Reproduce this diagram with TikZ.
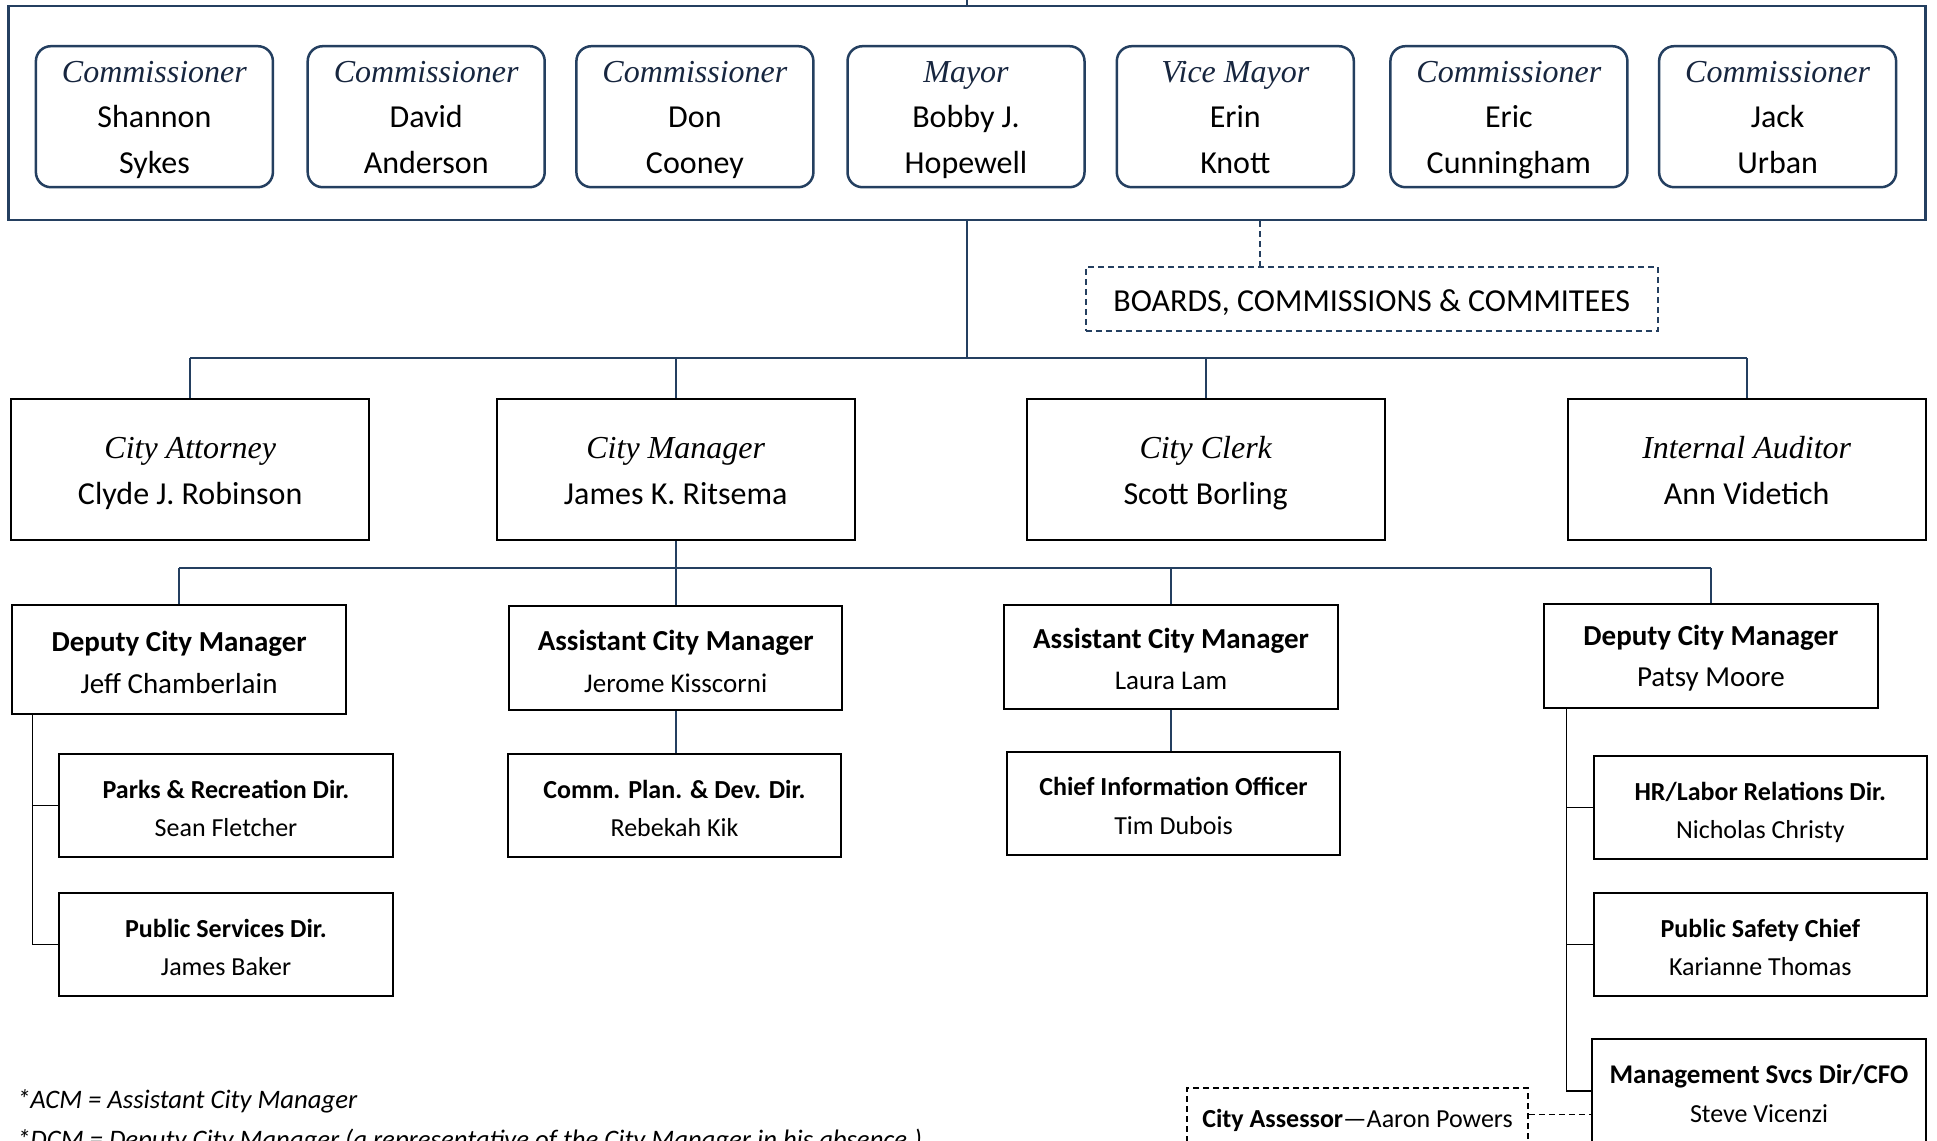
\documentclass[tikz,border=0pt]{standalone}
\usepackage{fontspec}
\setmainfont{Carlito}
\newfontfamily\tnr{Liberation Serif}
\definecolor{navy}{HTML}{243F60}
\definecolor{navytxt}{HTML}{17263F}
\newcommand\rtitle[1]{{\tnr\itshape #1}}
\newcommand\ctitle[1]{{\tnr\itshape\color{navytxt}#1}}
\newcommand\bstr{}
\newcommand\estr{}
\begin{document}
\begin{tikzpicture}[x=1pt,y=-1pt,
  conn/.style={draw=navy,line width=2pt},
  subline/.style={draw=black,line width=1.6pt},
  struts/.style 2 args={execute at begin node={\def\bstr{\rule{0pt}{#1}}\def\estr{\rule[-#2]{0pt}{#2}}}},
  council/.style={draw=navy,line width=2.5pt,rounded corners=15pt,minimum width=237pt,minimum height=141pt,align=center,inner sep=0pt,font=\fontsize{32}{45.7}\selectfont,struts={35pt}{13pt}},
  officer/.style={draw=black,line width=2pt,minimum width=358pt,minimum height=141pt,align=center,inner sep=0pt,font=\fontsize{32}{45.7}\selectfont,struts={37pt}{12.5pt}},
  manager/.style={draw=black,line width=2pt,minimum width=333.5pt,minimum height=104pt,align=center,inner sep=0pt,font=\fontsize{29}{41.5}\selectfont,struts={36pt}{10pt}},
  director/.style={draw=black,line width=2pt,minimum width=333.5pt,minimum height=103pt,align=center,inner sep=0pt,font=\fontsize{26}{38.4}\selectfont,struts={33pt}{8.7pt}},
  dashbox/.style={dashed,dash pattern=on 6pt off 4pt,line width=1.6pt,align=center,inner sep=0pt},
  note/.style={anchor=base west,inner sep=0pt,font=\fontsize{26.7}{32}\selectfont\itshape}
]
\useasboundingbox (0,0) rectangle (1937,1140);
\fill[white] (0,0) rectangle (1937,1140);

% council frame
\node[draw=navy,line width=2.5pt,minimum width=1917pt,minimum height=214pt,inner sep=0pt] (frame) at (967.2,113) {};
\coordinate (top) at (967.2,0);
\draw[conn] (frame.north) -- (top);

\node[council] (c1) at (154.4,116.7) {\bstr\ctitle{Commissioner}\\Shannon\\Sykes\estr};
\node[council] (c2) at (426.2,116.7) {\bstr\ctitle{Commissioner}\\David\\Anderson\estr};
\node[council] (c3) at (694.9,116.7) {\bstr\ctitle{Commissioner}\\Don\\Cooney\estr};
\node[council] (c4) at (966.0,116.7) {\bstr\ctitle{Mayor}\\Bobby J.\\Hopewell\estr};
\node[council] (c5) at (1235.3,116.7) {\bstr\ctitle{Vice Mayor}\\Erin\\Knott\estr};
\node[council] (c6) at (1508.9,116.7) {\bstr\ctitle{Commissioner}\\Eric\\Cunningham\estr};
\node[council] (c7) at (1777.6,116.7) {\bstr\ctitle{Commissioner}\\Jack\\Urban\estr};

% boards
\node[dashbox,draw=navy,minimum width=572pt,minimum height=64pt,font=\fontsize{32}{38}\selectfont,struts={30pt}{5pt}] (bd) at (1371.8,298.9) {\bstr BOARDS, COMMISSIONS \& COMMITEES\estr};
\coordinate (bdx) at (1260,0);
\draw[conn,dashed,dash pattern=on 6pt off 4pt] (frame.south -| bdx) -- (bd.north -| bdx);

% level 2
\node[officer] (ca) at (190.2,469.4) {\bstr\rtitle{City Attorney}\\Clyde J. Robinson\estr};
\node[officer] (cm) at (675.7,469.4) {\bstr\rtitle{City Manager}\\James K. Ritsema\estr};
\node[officer] (cc) at (1205.7,469.4) {\bstr\rtitle{City Clerk}\\Scott Borling\estr};
\node[officer] (ia) at (1746.7,469.4) {\bstr\rtitle{Internal Auditor}\\Ann Videtich\estr};

\coordinate (busA) at (967.2,358.2);
\draw[conn] (frame.south) -- (busA);
\draw[conn] (ca.north |- busA) -- (ia.north |- busA);
\foreach \n in {ca,cm,cc,ia} \draw[conn] (\n.north) -- (\n.north |- busA);

% level 3
\node[manager,minimum height=108.7pt] (jeff) at (179.1,659.7) {\bstr\textbf{Deputy City Manager}\\Jeff Chamberlain\estr};
\node[manager] (jer) at (675.7,658.4) {\bstr\textbf{Assistant City Manager}\\{\fontsize{27}{41.5}\selectfont Jerome Kisscorni}\estr};
\node[manager,struts={34pt}{10pt}] (lau) at (1171,657.2) {\bstr\textbf{Assistant City Manager}\\{\fontsize{27}{41.5}\selectfont Laura Lam}\estr};
\node[manager,struts={30pt}{10pt}] (pat) at (1710.9,656) {\bstr\textbf{Deputy City Manager}\\Patsy Moore\estr};

\coordinate (busB) at (675.7,568.2);
\draw[conn] (cm.south) -- (cm.south |- busB);
\draw[conn] (jeff.north |- busB) -- (pat.north |- busB);
\foreach \n in {jeff,jer,lau,pat} \draw[conn] (\n.north) -- (\n.north |- busB);

% level 4
\node[director] (cpd) at (674.5,805.4) {\bstr\textbf{Comm. Plan. \& Dev. Dir.}\\Rebekah Kik\estr};
\node[director] (cio) at (1173.5,803) {\bstr\textbf{Chief Information Officer}\\Tim Dubois\estr};
\node[director] (pk) at (226,805.4) {\bstr\textbf{Parks \& Recreation Dir.}\\Sean Fletcher\estr};
\node[director] (ps) at (226,944.4) {\bstr\textbf{Public Services Dir.}\\James Baker\estr};
\node[director] (hr) at (1760.3,807.3) {\bstr\textbf{HR/Labor Relations Dir.}\\Nicholas Christy\estr};
\node[director] (psc) at (1760.3,944.4) {\bstr\textbf{Public Safety Chief}\\Karianne Thomas\estr};
\node[director,minimum height=104pt,font=\fontsize{27}{38.4}\selectfont] (mg) at (1759,1091) {\bstr\textbf{Management Svcs Dir/CFO}\\{\fontsize{26}{38.4}\selectfont Steve Vicenzi}\estr};

\draw[conn] (jer.south) -- (jer.south |- cpd.north);
\draw[conn] (lau.south) -- (lau.south |- cio.north);

\coordinate (jv) at ([xshift=21pt]jeff.south west);
\draw[subline] (jv) |- (ps.west);
\draw[subline] (pk.west) -- (pk.west -| jv);

\coordinate (pv) at ([xshift=23.5pt]pat.south west);
\draw[subline] (pv) |- (mg.west);
\draw[subline] (hr.west) -- (hr.west -| pv);
\draw[subline] (psc.west) -- (psc.west -| pv);

% assessor
\node[dashbox,draw=black,minimum width=341pt,minimum height=60pt,font=\fontsize{26}{30}\selectfont,struts={28pt}{8.4pt}] (as) at (1357.5,1118) {\bstr\textbf{City Assessor}—Aaron Powers\estr};
\draw[black,line width=1.6pt,dashed,dash pattern=on 6pt off 4pt] ([yshift=3.7pt]as.east) -- ([yshift=3.7pt]as.east -| mg.west);

% notes
\node[note] (n1) at (17,1108) {*ACM = Assistant City Manager};
\node[note] (n2) at (17,1148) {*DCM = Deputy City Manager (a representative of the City Manager in his absence.)};
\end{tikzpicture}
\end{document}
